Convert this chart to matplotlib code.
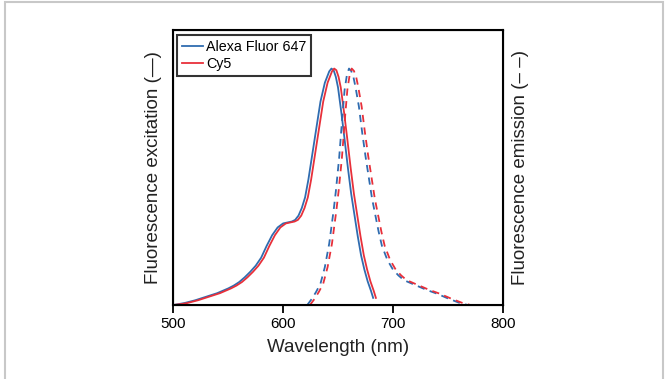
import numpy as np
import matplotlib
matplotlib.use("Agg")
import matplotlib.pyplot as plt
from matplotlib.patches import Rectangle

plt.rcParams['font.family'] = ['Liberation Sans', 'DejaVu Sans']

# excitation spectra (normalised)
ex_nm_alexa = [500, 505, 510, 520, 530, 540, 545, 550, 555, 560, 565, 570, 575, 580, 585,
               590, 595, 600, 605, 608, 611, 614, 617, 620, 623, 626, 630, 634, 638, 642,
               644, 646, 648, 650, 653, 656, 659, 662, 665, 668, 671, 674, 677, 680, 682]
ex_nm_cy5 = [500, 507.5, 512.5, 522.5, 532.5, 542.5, 547.5, 552.5, 557.5, 562.5, 567.5,
             572.5, 577.5, 582.5, 587.5, 592.5, 597.5, 602.5, 607.5, 610.5, 613.5, 616.5,
             619.5, 622.5, 625.5, 628.5, 632.5, 636.5, 640.5, 644.5, 646.5, 648.5, 650.5,
             652.5, 655.5, 658.5, 661.5, 664.5, 667.5, 670.5, 673.5, 676.5, 679.5, 682.5,
             684.5]
ex_val = [0.0, 0.004, 0.008, 0.02, 0.035, 0.05, 0.06, 0.07, 0.082, 0.097, 0.117, 0.14,
          0.166, 0.2, 0.25, 0.295, 0.328, 0.345, 0.35, 0.353, 0.36, 0.378, 0.41, 0.455,
          0.53, 0.62, 0.74, 0.86, 0.94, 0.988, 1.0, 0.993, 0.965, 0.92, 0.815, 0.7, 0.58,
          0.47, 0.38, 0.29, 0.21, 0.15, 0.1, 0.06, 0.03]

# emission spectra (normalised)
em_nm_alexa = [622, 626, 630, 634, 638, 642, 646, 648, 651, 654, 656, 658, 660, 662, 664,
               666, 669, 672, 675, 678, 681, 684, 687, 690, 695, 700, 705, 710, 720, 730,
               740, 750, 760, 768]
em_nm_cy5 = [624.5, 628.5, 632.5, 636.5, 640.5, 644.5, 648.5, 650.5, 653.5, 656.5, 658.5,
             660.5, 662.5, 664.5, 666.5, 668.5, 671.5, 674.5, 677.5, 680.5, 683.5, 686.5,
             689.5, 692.5, 697.5, 702.5, 707.5, 712.5, 722.5, 732.5, 742.5, 752.5, 762.5,
             770.5]
em_val = [0.0, 0.025, 0.055, 0.09, 0.16, 0.26, 0.4, 0.48, 0.62, 0.8, 0.91, 0.97, 1.0,
          0.99, 0.965, 0.92, 0.84, 0.73, 0.63, 0.54, 0.45, 0.38, 0.31, 0.25, 0.19, 0.15,
          0.125, 0.105, 0.085, 0.065, 0.048, 0.028, 0.01, 0.0]

labels = ['Alexa Fluor 647', 'Cy5']
colors = ['#2f6cb0', '#e8303a']
xticks = [500, 600, 700, 800]

fig = plt.figure(figsize=(6.71, 3.79), dpi=100)
ax = fig.add_axes([0.2583, 0.1953, 0.4909, 0.7255])

ax.plot(ex_nm_alexa, ex_val, color=colors[0], lw=1.3, label=labels[0])
ax.plot(ex_nm_cy5, ex_val, color=colors[1], lw=1.3, label=labels[1])
ax.plot(em_nm_alexa, em_val, color=colors[0], lw=1.3, dashes=(4, 3))
ax.plot(em_nm_cy5, em_val, color=colors[1], lw=1.3, dashes=(4, 3))

ax.set_xlim(500, 800)
ax.set_ylim(0, 1.163)
ax.set_xticks(xticks)
ax.set_yticks([])
ax.tick_params(axis='x', direction='out', length=5.5, width=1.3, labelsize=11, pad=3)
for s in ax.spines.values():
    s.set_linewidth(1.5)

ax.set_xlabel('Wavelength (nm)', fontsize=13.5, labelpad=6, color='#222222')
ax.set_ylabel('Fluorescence excitation (—)', fontsize=13.5, labelpad=8, color='#222222')
ax2 = ax.twinx()
ax2.set_yticks([])
ax2.set_ylabel('Fluorescence emission (– –)', fontsize=13.5, labelpad=7, color='#222222')

leg = ax.legend(loc='upper left', bbox_to_anchor=(0.0103, 0.982), fontsize=10.3,
                frameon=True, fancybox=False, borderpad=0.35, handlelength=1.5,
                handletextpad=0.2, labelspacing=0.2, borderaxespad=0)
leg.get_frame().set_edgecolor('black')
leg.get_frame().set_linewidth(1.5)

fig.add_artist(Rectangle((0.0075, -0.05), 0.981, 1.0447, transform=fig.transFigure,
                         fill=False, edgecolor='#c8c8c8', lw=1.5, clip_on=False))

fig.savefig('out.png', dpi=100)
